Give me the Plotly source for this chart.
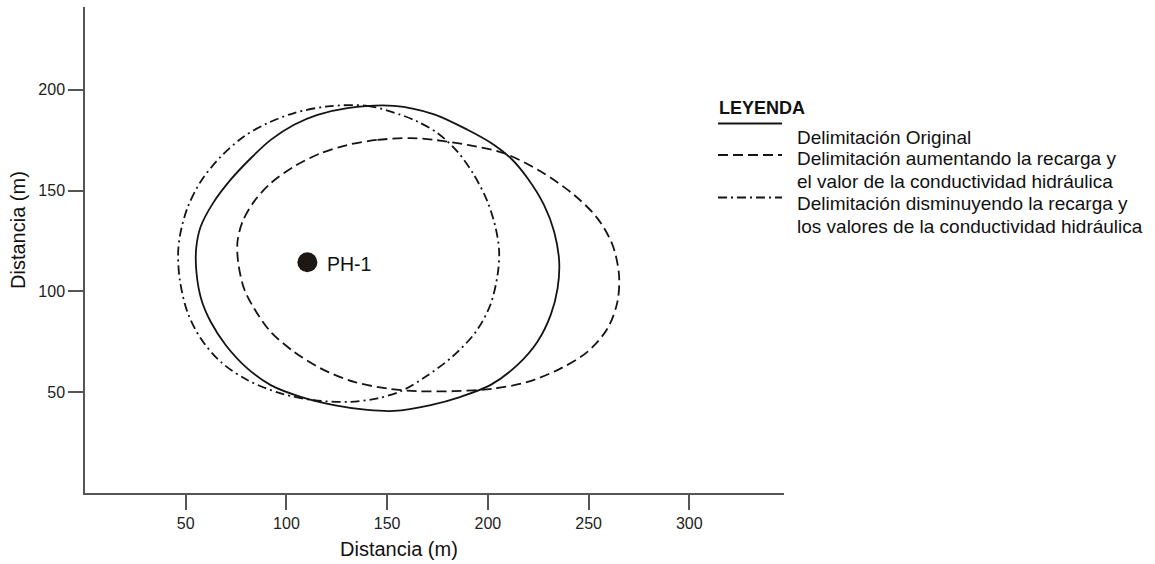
import plotly.graph_objects as go

# Capture-zone outlines around well PH-1 (metres)
orig_x = [130.3, 153.4, 173.3, 189.9, 203.1, 211.4, 219.7, 227.9, 232.9, 235.4, 234.6, 231.2,
          224.6, 214.7, 201.4, 186.5, 171.6, 153.4, 140.2, 123.6, 107.1, 92.2, 80.6, 69.9,
          62.4, 57.6, 55.3, 55.2, 57.4, 63.4, 72.0, 82.3, 92.2, 103.8, 115.4, 130.3]
orig_y = [190.9, 192.0, 187.8, 180.1, 172.6, 166.0, 156.1, 142.8, 129.6, 114.7, 101.5, 88.3,
          75.0, 63.5, 53.6, 47.7, 43.6, 40.7, 41.2, 43.6, 47.7, 53.5, 61.8, 73.3,
          84.9, 96.5, 109.7, 121.4, 132.0, 143.5, 155.0, 166.0, 175.1, 182.6, 187.5, 190.9]

up_x = [130.3, 145.2, 161.7, 173.3, 189.9, 208.0, 226.3, 242.8, 254.4, 261.9, 265.1, 264.3,
        259.4, 249.4, 236.2, 219.7, 203.1, 183.2, 165.0, 150.1, 133.6, 117.0, 103.8, 92.2,
        83.9, 78.9, 76.0, 75.7, 78.2, 83.9, 92.2, 103.8, 117.0, 130.3]
up_y = [172.6, 175.1, 176.0, 175.1, 172.6, 168.5, 159.4, 147.8, 136.2, 123.0, 108.1, 94.8,
        81.6, 70.0, 61.8, 55.1, 51.8, 50.5, 50.5, 51.8, 55.1, 61.8, 70.0, 79.9,
        91.6, 101.5, 114.7, 124.6, 134.6, 144.5, 153.6, 161.9, 168.5, 172.6]

down_x = [120.4, 140.2, 156.8, 165.0, 175.0, 184.9, 193.1, 199.8, 203.9, 205.6, 204.8, 201.2,
          194.0, 182.6, 169.0, 157.0, 145.2, 131.3, 113.7, 97.2, 80.6, 67.4, 57.4, 50.8,
          47.2, 46.2, 47.2, 50.8, 57.4, 67.4, 78.9, 90.6, 103.8, 120.4]
down_y = [191.7, 192.0, 187.5, 184.2, 178.5, 169.3, 157.7, 144.5, 131.3, 119.7, 108.1, 93.2,
          79.9, 67.8, 57.6, 50.6, 46.9, 45.2, 46.0, 49.4, 56.0, 65.0, 76.7, 89.9,
          104.8, 118.0, 128.0, 141.2, 154.4, 166.8, 176.8, 183.4, 188.4, 191.7]

well_x = [110.4]
well_y = [114.4]
well_label = "PH-1"

x_ticks = [50, 100, 150, 200, 250, 300]
y_ticks = [50, 100, 150, 200]

legend_title = "LEYENDA"
legend_rows = [
    ["Delimitación Original"],
    ["Delimitación aumentando la recarga y", "el valor de la conductividad hidráulica"],
    ["Delimitación disminuyendo la recarga y", "los valores de la conductividad hidráulica"],
]

FONT = "Liberation Sans, Arial, sans-serif"
INK = "#141414"
AXIS = "#555555"
DASH = "10px,5px"
DASHDOT = "9px,4px,2px,4px"
LINE_W = 1.8

fig = go.Figure()
for xs, ys, dash in [(orig_x, orig_y, "solid"), (up_x, up_y, DASH), (down_x, down_y, DASHDOT)]:
    fig.add_trace(go.Scatter(x=xs, y=ys, mode="lines", showlegend=False, hoverinfo="skip",
                             line=dict(color=INK, width=LINE_W, dash=dash, shape="spline",
                                       smoothing=0.9)))

fig.add_trace(go.Scatter(x=well_x, y=well_y, mode="markers", showlegend=False,
                         marker=dict(size=20, color="#1e1815")))

# plot-area geometry in pixels, used to place the legend block
L, T, W, H = 85, 7, 699, 486


def fx(p):
    return (p - L) / W


def fy(p):
    return 1 - (p - T) / H


annotations = [
    dict(x=well_x[0], y=well_y[0], xref="x", yref="y", text=well_label, showarrow=False,
         xanchor="left", yanchor="middle", xshift=18, yshift=-2,
         font=dict(family=FONT, size=19.5, color="#111")),
    dict(x=fx(398.5), y=fy(549), xref="paper", yref="paper", text="Distancia (m)",
         showarrow=False, xanchor="center", yanchor="middle",
         font=dict(family=FONT, size=20, color="#111")),
    dict(x=fx(18), y=fy(230), xref="paper", yref="paper", text="Distancia (m)",
         showarrow=False, xanchor="center", yanchor="middle", textangle=-90,
         font=dict(family=FONT, size=20, color="#111")),
    dict(x=fx(717), y=fy(108), xref="paper", yref="paper", text="<b>" + legend_title + "</b>",
         showarrow=False, xanchor="left", yanchor="middle",
         font=dict(family=FONT, size=18, color="#111")),
]

row_y = [[137], [158.5, 181], [203.5, 226]]
line_y = [123.5, 155, 197.5]
dashes = ["solid", DASH, DASHDOT]
shapes = []
for rows, ys, ly, dsh in zip(legend_rows, row_y, line_y, dashes):
    for text, ty in zip(rows, ys):
        annotations.append(dict(x=fx(795), y=fy(ty), xref="paper", yref="paper", text=text,
                                showarrow=False, xanchor="left", yanchor="middle",
                                font=dict(family=FONT, size=19, color="#111")))
    shapes.append(dict(type="line", xref="paper", yref="paper", x0=fx(718), x1=fx(782),
                       y0=fy(ly), y1=fy(ly), line=dict(color=INK, width=LINE_W, dash=dsh)))

axis_common = dict(showline=True, linecolor=AXIS, linewidth=1.5, ticks="outside", ticklen=15,
                   tickwidth=1.5, tickcolor=AXIS, showgrid=False, zeroline=False,
                   tickfont=dict(family=FONT, size=16, color="#222"))

fig.update_layout(
    width=1155, height=564,
    margin=dict(l=L, r=1155 - L - W, t=T, b=564 - T - H),
    paper_bgcolor="white", plot_bgcolor="white",
    xaxis=dict(range=[0, 347], tickvals=x_ticks, **axis_common),
    yaxis=dict(range=[0, 241], tickvals=y_ticks, **axis_common),
    annotations=annotations, shapes=shapes,
    font=dict(family=FONT),
)

fig.write_html("out.html")
